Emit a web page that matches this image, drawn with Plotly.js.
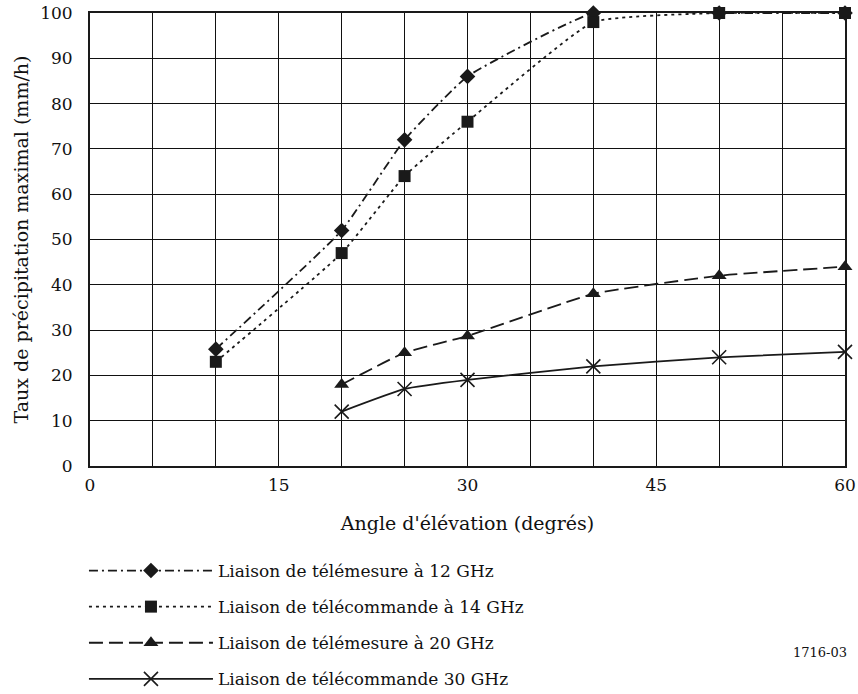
<!DOCTYPE html>
<html>
<head>
<meta charset="utf-8">
<script src="https://cdn.plot.ly/plotly-3.0.1.min.js"></script>
<style>html,body{margin:0;padding:0;background:#fff;}#chart{width:858px;height:694px;}</style>
</head>
<body>
<div id="chart"></div>
<script>
const names = [
  "Liaison de télémesure à 12 GHz",
  "Liaison de télécommande à 14 GHz",
  "Liaison de télémesure à 20 GHz",
  "Liaison de télécommande 30 GHz"
];
const x12 = [10, 20, 25, 30, 40, 50, 60];
const y12 = [25.8, 52, 72, 86, 100, 100, 100];
const x14 = [10, 20, 25, 30, 40, 50, 60];
const y14 = [23, 47, 64, 76, 98, 100, 100];
const x20 = [20, 25, 30, 40, 50, 60];
const y20 = [18, 25, 28.7, 38, 42, 44];
const x30 = [20, 25, 30, 40, 50, 60];
const y30 = [12, 17, 19, 22, 24, 25.2];
const xTicks = [0, 15, 30, 45, 60];
const yTicks = [0, 10, 20, 30, 40, 50, 60, 70, 80, 90, 100];

const ink = "#1a1a1a";
const grid = "#111";
const traces = [
  {x: x12, y: y12, name: names[0], legendgroup: "a", mode: "lines+markers", line: {color: ink, width: 1.8, dash: "9px,4px,2px,4px", shape: "spline", smoothing: 0.4},
   marker: {symbol: "diamond", size: 12, color: ink}, cliponaxis: false},
  {x: x14, y: y14, name: names[1], legendgroup: "b", mode: "lines+markers", line: {color: ink, width: 1.8, dash: "3px,4px", shape: "spline", smoothing: 0.4},
   marker: {symbol: "square", size: 12, color: ink}, cliponaxis: false},
  {x: x20, y: y20, name: names[2], legendgroup: "c", mode: "lines+markers", line: {color: ink, width: 1.8, dash: "14px,6px", shape: "spline", smoothing: 0.4},
   marker: {symbol: "triangle-up", size: 13, color: ink}, cliponaxis: false},
  {x: x30, y: y30, name: names[3], legendgroup: "d", mode: "lines+markers", line: {color: ink, width: 1.8, shape: "spline", smoothing: 0.4},
   marker: {symbol: "x-thin-open", size: 14, color: ink, line: {width: 1.6, color: ink}}, cliponaxis: false}
];

const fam = "DejaVu Serif";
const font = {family: fam, size: 17, color: "#111"};
const titleFont = {family: fam, size: 19, color: "#111"};
const layout = {
  width: 858, height: 694,
  margin: {l: 90, r: 13, t: 13, b: 228, autoexpand: false},
  paper_bgcolor: "#fff", plot_bgcolor: "#fff",
  font: font,
  showlegend: true,
  legend: {x: -0.008, xanchor: "left", y: -0.192, yanchor: "top", yref: "paper",
           font: {family: fam, size: 17, color: "#111"}, tracegroupgap: 11,
           itemwidth: 124, bgcolor: "rgba(0,0,0,0)", traceorder: "grouped"},
  xaxis: {range: [0, 60], tickvals: xTicks, ticktext: xTicks.map(String), ticks: "", showline: true, mirror: true,
          linecolor: ink, linewidth: 2, showgrid: true, gridcolor: grid, gridwidth: 1, zeroline: false,
          minor: {dtick: 5, tick0: 0, showgrid: true, gridcolor: grid, gridwidth: 1, ticks: ""},
          tickfont: font, ticklabelstandoff: 3,
          title: {text: "Angle d'élévation (degrés)", font: titleFont, standoff: 22}},
  yaxis: {range: [0, 100], tickvals: yTicks, ticks: "", showline: true, mirror: true,
          linecolor: ink, linewidth: 2, showgrid: true, gridcolor: grid, gridwidth: 1, zeroline: false,
          tickfont: font, ticklabelstandoff: 12,
          title: {text: "Taux de précipitation maximal (mm/h)", font: titleFont, standoff: 6}},
  annotations: [{text: "1716-03", xref: "paper", yref: "paper", x: 1.005, y: -0.412, xanchor: "right", yanchor: "middle",
                 showarrow: false, font: {family: fam, size: 13, color: "#111"}}]
};
Plotly.newPlot("chart", traces, layout, {displayModeBar: false, staticPlot: true});
</script>
</body>
</html>
